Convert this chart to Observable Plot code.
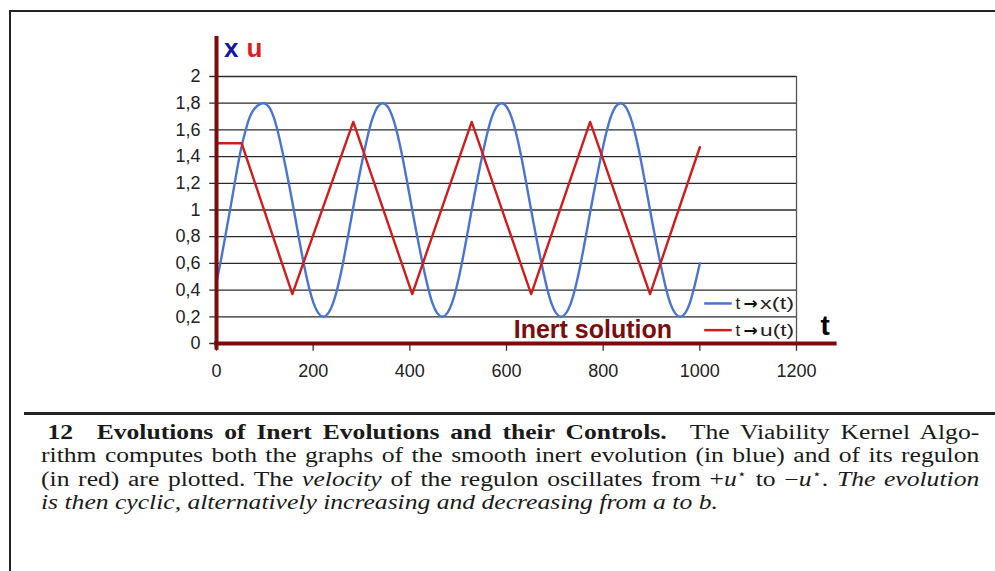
<!DOCTYPE html>
<html>
<head>
<meta charset="utf-8">
<script src="https://cdn.jsdelivr.net/npm/d3@7"></script>
<script src="https://cdn.jsdelivr.net/npm/@observablehq/plot@0.6"></script>
<style>
  html, body { margin: 0; padding: 0; background: #fff; }
  body { width: 995px; height: 571px; position: relative; overflow: hidden; }
  #frame { position: absolute; left: 9px; top: 10px; width: 990px; height: 570px;
           border-top: 2.5px solid #222; border-left: 2.5px solid #222; }
  #sep { position: absolute; left: 24px; top: 412px; width: 971px; height: 3px; background: #222; }
  #chart { position: absolute; left: 0; top: 0; }
  #caption { position: absolute; left: 41px; top: 421px; width: 733px;
             transform: scaleX(1.28); transform-origin: 0 0;
             font-family: "Liberation Serif", "Times New Roman", serif; font-size: 20px;
             line-height: 23.3px; color: #1a1a1a; }
  #caption .j { text-align: justify; text-align-last: justify; }
  #caption sup { font-size: 12px; line-height: 0; }
</style>
</head>
<body>
<div id="frame"></div>
<div id="sep"></div>
<div id="chart"></div>
<div id="caption">
  <div class="j" style="padding-left:5px"><b>12&ensp; Evolutions of Inert Evolutions and their Controls.</b>&ensp; The Viability Kernel Algo-</div>
  <div class="j">rithm computes both the graphs of the smooth inert evolution (in blue) and of its regulon</div>
  <div class="j">(in red) are plotted. The <i>velocity</i> of the regulon oscillates from +<i>u</i><sup>⋆</sup> to −<i>u</i><sup>⋆</sup>. <i>The evolution</i></div>
  <div><i>is then cyclic, alternatively increasing and decreasing from a to b.</i></div>
</div>
<script>
// ---- data ----
const X_TIME = [0,10,20,30,40,51,62,75,98,118,138,160,181,201,221,241,261,282,304,324,344,364,384,405,427,447,467,487,507,528,550,570,590,610,630,651,673,693,713,733,753,774,796,816,836,856,876,897,919,939,959,979,1000];
const X_VALUE = [0.46,0.64,0.84,1.04,1.25,1.46,1.62,1.74,1.8,1.70,1.41,1.0,0.59,0.30,0.2,0.30,0.59,1.0,1.41,1.70,1.8,1.70,1.41,1.0,0.59,0.30,0.2,0.30,0.59,1.0,1.41,1.70,1.8,1.70,1.41,1.0,0.59,0.30,0.2,0.30,0.59,1.0,1.41,1.70,1.8,1.70,1.41,1.0,0.59,0.30,0.2,0.30,0.6];
const U_TIME = [0,52,157,283,405,528,651,773,897,1000];
const U_VALUE = [1.5,1.5,0.37,1.66,0.37,1.66,0.37,1.66,0.37,1.47];
const Y_TICKS = [0,0.2,0.4,0.6,0.8,1,1.2,1.4,1.6,1.8,2];
const X_TICKS = [0,200,400,600,800,1000,1200];
const LEGEND_FN = ["x(t)", "u(t)"];
const LEGEND_COLOR = ["#4a74cf", "#d01c1c"];
const LEGEND_Y = [0.3, 0.1];

const xData = X_TIME.map((t, i) => ({t, v: X_VALUE[i]}));
const uData = U_TIME.map((t, i) => ({t, v: U_VALUE[i]}));
const legend = LEGEND_FN.map((fn, i) => ({fn, color: LEGEND_COLOR[i], y: LEGEND_Y[i]}));

const BLUE = "#4a74cf", RED = "#d01c1c", MAROON = "#7b0c0c";
const FONT = "'Liberation Sans', Arial, sans-serif";
const fmt = v => String(v).replace(".", ",");
const LEG_X = 1074;

const chart = Plot.plot({
  width: 995,
  height: 405,
  marginLeft: 216,
  marginRight: 199,
  marginTop: 76,
  marginBottom: 62,
  x: {domain: [0, 1200], axis: null},
  y: {domain: [0, 2], axis: null},
  style: {background: "transparent", overflow: "visible", fontFamily: FONT},
  marks: [
    Plot.ruleY(Y_TICKS, {y: d => d, x1: -14, x2: 1200, stroke: "#2a2a2a", strokeWidth: 1.3}),
    Plot.ruleX([1200], {x: d => d, y1: 0, y2: 2, stroke: "#555", strokeWidth: 1.3}),
    Plot.ruleX(X_TICKS, {x: d => d, y1: 0, y2: -0.058, stroke: "#333", strokeWidth: 1.3}),
    Plot.line(xData, {x: "t", y: "v", stroke: BLUE, strokeWidth: 2.4, curve: "natural"}),
    Plot.line(uData, {x: "t", y: "v", stroke: RED, strokeWidth: 2.4}),
    Plot.ruleX([0], {x: d => d, y1: -0.05, y2: 2.3, stroke: MAROON, strokeWidth: 4}),
    Plot.ruleY([0], {y: d => d, x1: -4, x2: 1284, stroke: MAROON, strokeWidth: 4}),
    Plot.text(Y_TICKS, {x: 0, y: d => d, text: d => fmt(d), dx: -16, textAnchor: "end",
      lineAnchor: "middle", fontSize: 18, fill: "#222", fontFamily: FONT}),
    Plot.text(X_TICKS, {x: d => d, y: 0, text: d => String(d), dy: 28, textAnchor: "middle",
      lineAnchor: "middle", fontSize: 18, fill: "#222", fontFamily: FONT}),
    Plot.text(["x"], {x: 0, y: 2, text: d => d, dx: 7.5, dy: -19.5, textAnchor: "start",
      lineAnchor: "bottom", fontSize: 26, fontWeight: "bold", fill: "#1414a8", fontFamily: FONT}),
    Plot.text(["u"], {x: 0, y: 2, text: d => d, dx: 30, dy: -19.5, textAnchor: "start",
      lineAnchor: "bottom", fontSize: 26, fontWeight: "bold", fill: "#dd1c1c", fontFamily: FONT}),
    Plot.text(["t"], {x: 1200, y: 0, text: d => d, dx: 24, dy: -9, textAnchor: "start",
      lineAnchor: "bottom", fontSize: 28, fontWeight: "bold", fill: "#000", fontFamily: FONT}),
    Plot.text(["Inert solution"], {x: 615, y: 0, text: d => d, dy: -6, textAnchor: "start",
      lineAnchor: "bottom", fontSize: 25, fontWeight: "bold", fill: MAROON, fontFamily: FONT}),
    // legend
    Plot.ruleY(legend, {y: "y", x1: 1010, x2: 1067, stroke: "color", strokeWidth: 2.5}),
    Plot.text(legend, {x: LEG_X, y: "y", text: () => "t", textAnchor: "start", lineAnchor: "middle",
      fontSize: 17, fill: "#222", fontFamily: FONT}),
    Plot.text(legend, {x: LEG_X, y: "y", text: () => "\u2192", dx: 8, dy: 0.5, textAnchor: "start",
      lineAnchor: "middle", fontSize: 17, fontWeight: "bold", fill: "#111", fontFamily: "'DejaVu Sans', sans-serif"}),
    Plot.text(legend, {x: LEG_X, y: "y", text: "fn", dx: 24.5, textAnchor: "start", lineAnchor: "middle",
      fontSize: 17, fill: "#222", fontFamily: FONT})
  ]
});
// widen the legend function labels like the reference (stretched glyphs)
d3.select(chart).selectAll("text").each(function () {
  if (LEGEND_FN.includes(this.textContent)) {
    this.setAttribute("textLength", 34);
    this.setAttribute("lengthAdjust", "spacingAndGlyphs");
  }
});
document.getElementById("chart").appendChild(chart);
</script>
</body>
</html>
